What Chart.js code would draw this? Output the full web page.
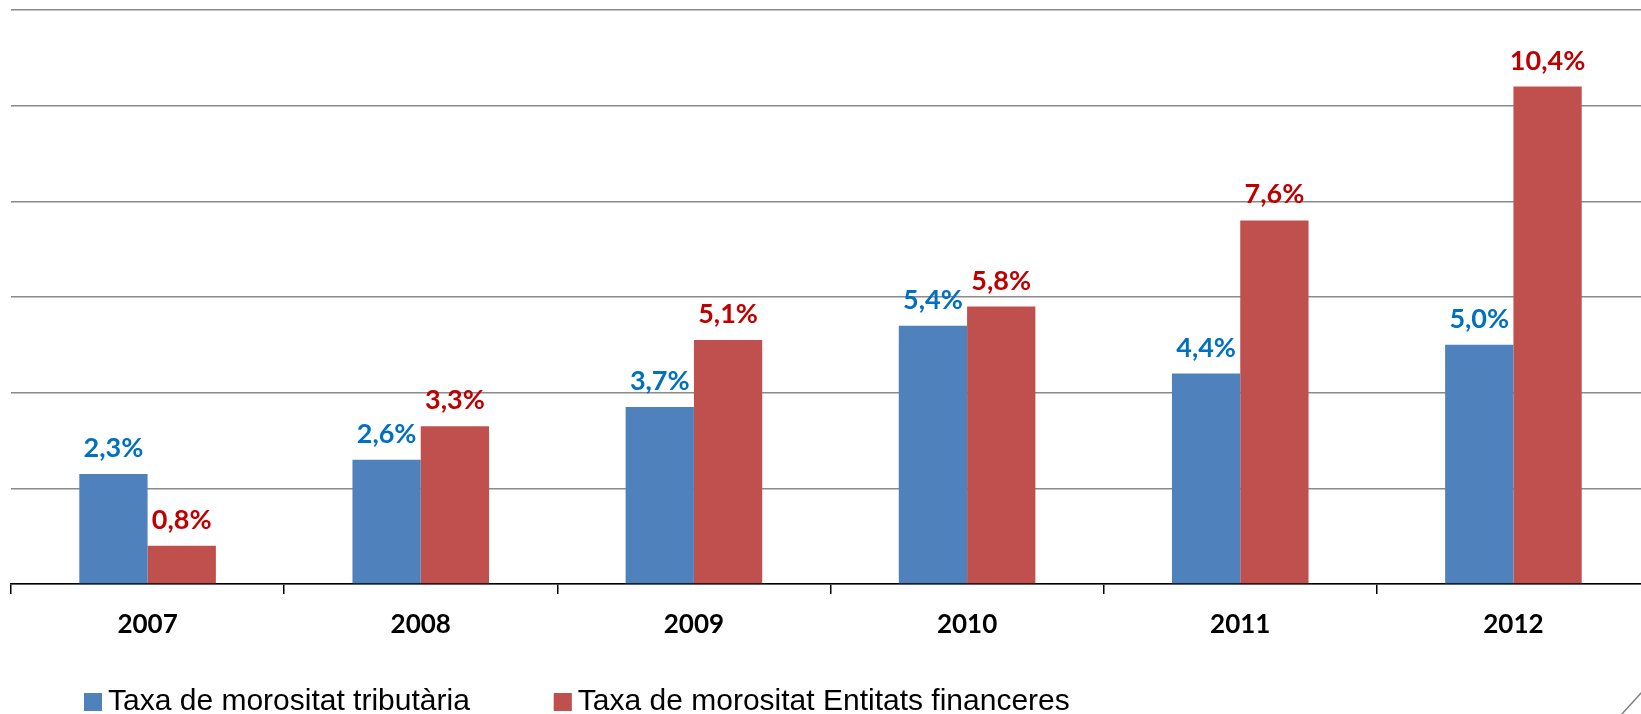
<!DOCTYPE html>
<html>
<head>
<meta charset="utf-8">
<script src="https://cdn.jsdelivr.net/npm/chart.js@4"></script>
<style>
  html, body { margin: 0; padding: 0; overflow: hidden; background: #fff; }
  #wrap { position: relative; width: 1650px; height: 764px; }
</style>
</head>
<body>
<div id="wrap"><canvas id="c"></canvas></div>
<script>
const categories = ['2007', '2008', '2009', '2010', '2011', '2012'];
const seriesNames = ['Taxa de morositat tributària', 'Taxa de morositat Entitats financeres'];
const tributaria = [2.3, 2.6, 3.7, 5.4, 4.4, 5.0];
const entitats = [0.8, 3.3, 5.1, 5.8, 7.6, 10.4];
const barColors = ['#4F81BD', '#C0504D'];
const labelColors = ['#0070C0', '#C00000'];

const LEGEND_PAD = 84;
const LEGEND_ITEM_TOP = 687;

const valueLabels = {
  id: 'valueLabels',
  afterDatasetsDraw(chart) {
    const ctx = chart.ctx;
    ctx.save();
    ctx.font = 'bold 27px Lato';
    ctx.textAlign = 'center';
    ctx.textBaseline = 'alphabetic';
    chart.data.datasets.forEach((ds, di) => {
      const meta = chart.getDatasetMeta(di);
      ctx.fillStyle = labelColors[di];
      meta.data.forEach((bar, i) => {
        const txt = ds.data[i].toFixed(1).replace('.', ',') + '%';
        ctx.fillText(txt, bar.x, bar.y - 17);
      });
    });
    ctx.restore();
  }
};

const legendPlace = {
  id: 'legendPlace',
  afterLayout(chart) {
    const lg = chart.legend;
    if (!lg) return;
    const h = lg.bottom - lg.top;
    lg.top = LEGEND_ITEM_TOP - LEGEND_PAD;
    lg.bottom = lg.top + h;
  },
  afterDraw(chart) {
    const lg = chart.legend;
    const ctx = chart.ctx;
    ctx.save();
    if (lg && lg.legendHitBoxes) {
      lg.legendHitBoxes.forEach((hb, i) => {
        ctx.fillStyle = barColors[i];
        ctx.fillRect(hb.left, hb.top + 6, 18, 18);
      });
    }
    // slide decoration line at bottom right
    ctx.strokeStyle = '#808080';
    ctx.lineWidth = 1.5;
    ctx.beginPath();
    ctx.moveTo(1621, 715);
    ctx.lineTo(1642, 692);
    ctx.stroke();
    ctx.restore();
  }
};

new Chart(document.getElementById('c'), {
  type: 'bar',
  data: {
    labels: categories,
    datasets: [
      { label: seriesNames[0], data: tributaria, backgroundColor: barColors[0], categoryPercentage: 0.5, barPercentage: 1.0 },
      { label: seriesNames[1], data: entitats, backgroundColor: barColors[1], categoryPercentage: 0.5, barPercentage: 1.0 }
    ]
  },
  options: {
    responsive: true,
    maintainAspectRatio: false,
    animation: false,
    layout: { padding: { top: 10, left: 0, right: 0, bottom: 0 } },
    plugins: {
      tooltip: { enabled: false },
      legend: {
        position: 'bottom',
        align: 'start',
        labels: {
          boxWidth: 9,
          boxHeight: 18,
          padding: LEGEND_PAD,
          color: '#000',
          font: { family: '"Liberation Sans", Arial, sans-serif', size: 30 }
        }
      }
    },
    scales: {
      x: {
        afterFit: (s) => { s.height = 56; },
        grid: { drawOnChartArea: false, drawTicks: true, tickLength: 10, color: '#000', lineWidth: 1.5, offset: true },
        border: { display: true, color: '#000', width: 1.5 },
        ticks: { color: '#000', padding: 15, font: { family: 'Lato', weight: 'bold', size: 26 } }
      },
      y: {
        min: 0,
        max: 12,
        afterFit: (s) => { s.width = 11; },
        ticks: { display: false, stepSize: 2 },
        grid: { color: '#8a8a8a', lineWidth: 1.5, drawTicks: false },
        border: { display: false }
      }
    }
  },
  plugins: [valueLabels, legendPlace]
});
</script>
</body>
</html>
